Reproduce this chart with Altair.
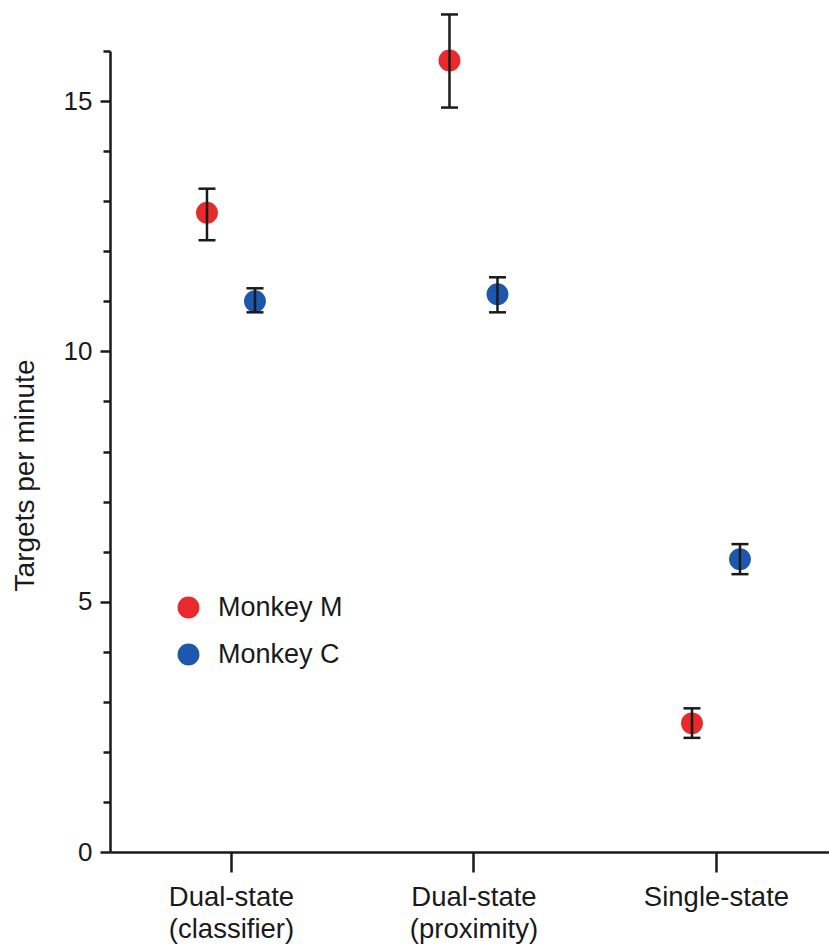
import altair as alt
import pandas as pd

conditions = ["Dual-state\n(classifier)", "Dual-state\n(proximity)", "Single-state"]
monkeys = ["Monkey M", "Monkey C"]

mean_M = [12.77, 15.81, 2.57]
lo_M = [12.22, 14.87, 2.28]
hi_M = [13.25, 16.73, 2.87]

mean_C = [11.00, 11.14, 5.85]
lo_C = [10.78, 10.78, 5.55]
hi_C = [11.26, 11.48, 6.15]

rows = []
for i, c in enumerate(conditions):
    rows.append({"condition": c, "monkey": "Monkey M", "mean": mean_M[i], "lo": lo_M[i], "hi": hi_M[i]})
    rows.append({"condition": c, "monkey": "Monkey C", "mean": mean_C[i], "lo": lo_C[i], "hi": hi_C[i]})
df = pd.DataFrame(rows)

FONT = "Liberation Sans"
RED = "#E82A2C"
BLUE = "#1D58AC"
INK = "#1a1a1a"

x_enc = alt.X(
    "condition:N",
    sort=conditions,
    scale=alt.Scale(type="point", domain=conditions, padding=0.4825, align=0.517),
    axis=alt.Axis(
        title=None,
        labelExpr="split(datum.label, '\\n')",
        labelFontSize=27.5,
        labelFont=FONT,
        labelColor=INK,
        labelAngle=0,
        labelPadding=11,
        labelLineHeight=32,
        labelBaseline="top",
        tickSize=20,
        tickWidth=2.5,
        tickColor=INK,
        domainWidth=2.5,
        domainColor=INK,
        grid=False,
    ),
)

y_axis = alt.Axis(
    title="Targets per minute",
    titleFont=FONT,
    titleFontSize=28,
    titleFontWeight="normal",
    titleColor=INK,
    titleAngle=270,
    titleAlign="center",
    titleBaseline="middle",
    titleX=-85,
    titleY=424,
    values=list(range(17)),
    labelExpr="datum.value % 5 == 0 ? datum.label : ''",
    labelFontSize=26,
    labelFont=FONT,
    labelColor=INK,
    labelPadding=8,
    tickSize={"condition": {"test": "datum.value % 5 === 0", "value": 10}, "value": 7},
    tickWidth=2.5,
    tickColor=INK,
    domainWidth=2.5,
    domainColor=INK,
    grid=False,
)

y_scale = alt.Scale(domain=[0, 16], nice=False, zero=True)

color_enc = alt.Color(
    "monkey:N",
    scale=alt.Scale(domain=monkeys, range=[RED, BLUE]),
    legend=alt.Legend(
        title=None,
        orient="none",
        legendX=65,
        legendY=543,
        symbolType="circle",
        symbolSize=480,
        symbolStrokeWidth=0,
        symbolOpacity=1,
        labelFontSize=27,
        labelFont=FONT,
        labelColor=INK,
        labelOffset=16,
        rowPadding=19,
        padding=0,
    ),
)

offsets = {"Monkey M": -24, "Monkey C": 24}

base = alt.Chart(df)
layers = []
for m in monkeys:
    off = offsets[m]
    sub = base.transform_filter(alt.datum.monkey == m)
    pts = sub.mark_circle(xOffset=off, size=480, opacity=1).encode(
        x=x_enc, y=alt.Y("mean:Q", scale=y_scale, axis=y_axis), color=color_enc
    )
    layers.append(pts)
for m in monkeys:
    off = offsets[m]
    sub = base.transform_filter(alt.datum.monkey == m)
    rule = sub.mark_rule(xOffset=off, color=INK, strokeWidth=2.5).encode(
        x=x_enc, y=alt.Y("lo:Q", scale=y_scale, axis=y_axis), y2="hi:Q"
    )
    cap_hi = sub.mark_tick(xOffset=off, color=INK, thickness=2.5, size=17, orient="horizontal", opacity=1).encode(
        x=x_enc, y=alt.Y("hi:Q", scale=y_scale, axis=y_axis)
    )
    cap_lo = sub.mark_tick(xOffset=off, color=INK, thickness=2.5, size=17, orient="horizontal", opacity=1).encode(
        x=x_enc, y=alt.Y("lo:Q", scale=y_scale, axis=y_axis)
    )
    layers += [rule, cap_hi, cap_lo]

chart = alt.layer(*layers).properties(
    width=719,
    height=801,
    autosize=alt.AutoSizeParams(type="none"),
    padding={"left": 110, "top": 51, "right": 0, "bottom": 96},
    background="white",
).configure_view(stroke=None)

chart.save("out.html", embed_options={"renderer": "svg", "actions": False})
